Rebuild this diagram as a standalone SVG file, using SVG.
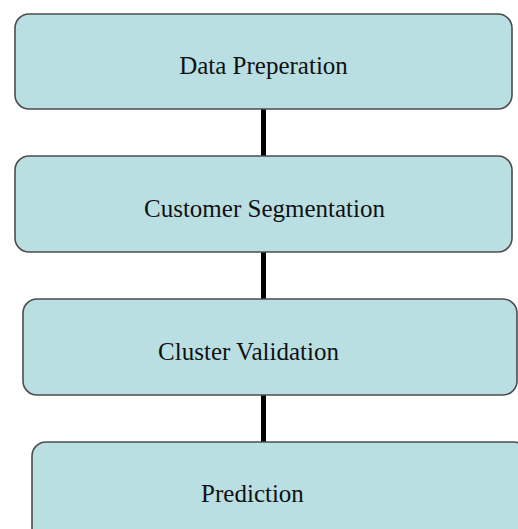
<svg xmlns="http://www.w3.org/2000/svg" width="518" height="529" viewBox="0 0 518 529">
  <style>
    .box { fill: #b9dfe3; stroke: #4d4d4d; stroke-width: 1.6; }
    .label { font-family: "Liberation Serif", "Times New Roman", serif; font-size: 25px; fill: #111; text-anchor: middle; }
    .link { stroke: #000; stroke-width: 5; fill: none; }
  </style>
  <rect width="518" height="529" fill="#ffffff"/>
  <g id="connectors">
    <line class="link" x1="263.5" y1="109" x2="263.5" y2="156"/>
    <line class="link" x1="263.5" y1="252" x2="263.5" y2="299"/>
    <line class="link" x1="263.5" y1="395" x2="263.5" y2="442"/>
  </g>
  <g id="data-preperation">
    <rect class="box" x="15" y="14" width="497" height="95" rx="14" ry="14"/>
    <text class="label" x="263.5" y="74">Data Preperation</text>
  </g>
  <g id="customer-segmentation">
    <rect class="box" x="15" y="156" width="497" height="96" rx="14" ry="14"/>
    <text class="label" x="264.5" y="217">Customer Segmentation</text>
  </g>
  <g id="cluster-validation">
    <rect class="box" x="23" y="299" width="494" height="96" rx="14" ry="14"/>
    <text class="label" x="248.5" y="360">Cluster Validation</text>
  </g>
  <g id="prediction">
    <rect class="box" x="32" y="442" width="496" height="110" rx="14" ry="14"/>
    <text class="label" x="252.5" y="502">Prediction</text>
  </g>
</svg>
